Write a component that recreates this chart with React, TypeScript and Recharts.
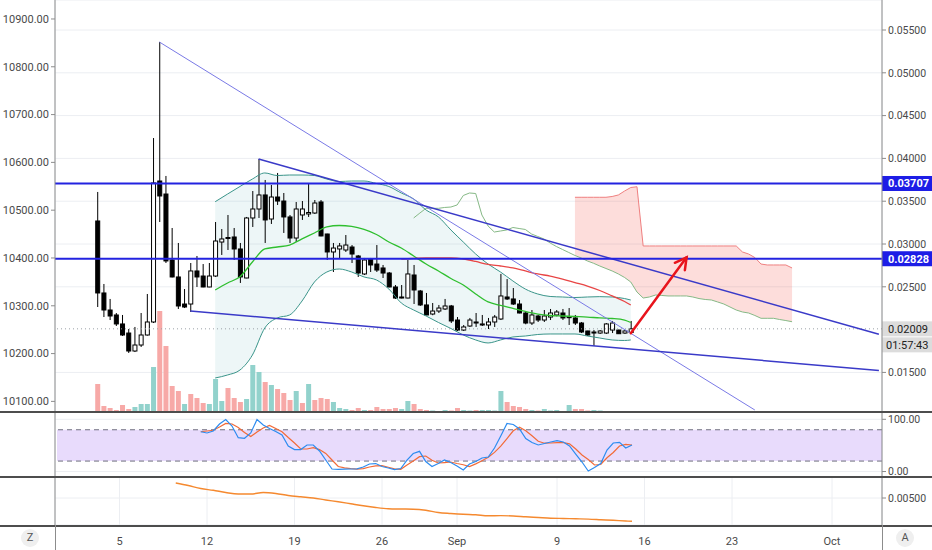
import React from "react";
import { ComposedChart, Bar, Line, Area, XAxis, YAxis, CartesianGrid, ReferenceLine, ReferenceArea } from "recharts";

// 12h slots counted from Jul 31 00:00, the last one is early October
const SLOT_COUNT = 133;
const dateTicks = [10, 24, 38, 52, 64, 80, 94, 108, 124];
const dateLabels = ["5", "12", "19", "26", "Sep", "9", "16", "23", "Oct"];

const leftTicks = [10100, 10200, 10300, 10400, 10500, 10600, 10700, 10800, 10900];
const rightTicks = [0.015, 0.025, 0.03, 0.035, 0.04, 0.045, 0.05, 0.055];

// candles, first one in slot 6
const CANDLE_START = 6;
const candleOpen = [
  0.03269, 0.02428, 0.02229, 0.02171, 0.02066, 0.0196, 0.0175, 0.0182, 0.01937, 0.02089,
  0.03736, 0.03584, 0.02813, 0.02615, 0.02299, 0.02299, 0.02685, 0.02626, 0.02498, 0.02626,
  0.03023, 0.03064, 0.03082, 0.02942, 0.02603, 0.03304, 0.03409, 0.03573, 0.03292, 0.03549,
  0.03502, 0.03316, 0.0307, 0.03339, 0.03351, 0.03362, 0.03491, 0.03117, 0.02907, 0.02942,
  0.0293, 0.02965, 0.0286, 0.0265, 0.02825, 0.02766, 0.0272, 0.02661, 0.02498, 0.02381,
  0.02369, 0.02638, 0.02451, 0.02288, 0.02182, 0.02217, 0.02241, 0.02276, 0.02112, 0.01995,
  0.02042, 0.02089, 0.02054, 0.02054, 0.02089, 0.02124, 0.02381, 0.02358, 0.02299, 0.02194,
  0.02077, 0.02159, 0.02112, 0.02147, 0.02171, 0.02194, 0.02151, 0.02136, 0.02077, 0.01984,
  0.01972, 0.0196, 0.0196, 0.01995, 0.01995, 0.0196, 0.01966,
];
const candleHigh = [
  0.03608, 0.02533, 0.02358, 0.02194, 0.02171, 0.02007, 0.02031, 0.02194, 0.02416, 0.04238,
  0.0536, 0.03795, 0.03187, 0.03012, 0.02474, 0.02778, 0.0286, 0.02766, 0.02778, 0.03257,
  0.03175, 0.03339, 0.03187, 0.03012, 0.03316, 0.03619, 0.03993, 0.03748, 0.03689, 0.0383,
  0.03596, 0.03339, 0.03491, 0.03502, 0.03701, 0.03514, 0.03514, 0.0312, 0.03012, 0.03012,
  0.03105, 0.02988, 0.02872, 0.02837, 0.02837, 0.02988, 0.02755, 0.02673, 0.02521, 0.02521,
  0.02813, 0.02755, 0.02463, 0.02428, 0.02311, 0.02288, 0.02358, 0.02288, 0.02147, 0.02054,
  0.02136, 0.02194, 0.02171, 0.02136, 0.02171, 0.0265, 0.02591, 0.02486, 0.02346, 0.02206,
  0.02229, 0.02171, 0.02229, 0.02241, 0.02229, 0.02241, 0.02252, 0.02171, 0.02089, 0.01986,
  0.01995, 0.01995, 0.02077, 0.02101, 0.01998, 0.01995, 0.02101,
];
const candleLow = [
  0.02264, 0.02147, 0.02112, 0.02042, 0.01925, 0.01727, 0.01738, 0.01797, 0.0193, 0.02077,
  0.03257, 0.02778, 0.0261, 0.02241, 0.02252, 0.02206, 0.02498, 0.02495, 0.02495, 0.02615,
  0.02872, 0.0293, 0.02813, 0.02545, 0.026, 0.03199, 0.03304, 0.03012, 0.03234, 0.03456,
  0.03129, 0.03012, 0.03023, 0.03281, 0.03316, 0.03351, 0.0309, 0.02813, 0.02673, 0.02825,
  0.02907, 0.02778, 0.02615, 0.02638, 0.02673, 0.02673, 0.02603, 0.02495, 0.02358, 0.02365,
  0.02365, 0.02299, 0.02276, 0.02168, 0.02168, 0.02194, 0.02229, 0.02077, 0.01984, 0.01984,
  0.02031, 0.02031, 0.02042, 0.02007, 0.02031, 0.02112, 0.02346, 0.02288, 0.0219, 0.02062,
  0.02054, 0.02089, 0.02089, 0.02112, 0.02155, 0.02112, 0.02054, 0.02054, 0.0196, 0.01925,
  0.01809, 0.01949, 0.01949, 0.0196, 0.01949, 0.01949, 0.0196,
];
const candleClose = [
  0.02428, 0.02229, 0.02159, 0.02066, 0.01937, 0.0175, 0.0182, 0.01937, 0.02089, 0.03713,
  0.03561, 0.02802, 0.02615, 0.02276, 0.02264, 0.02685, 0.02615, 0.02498, 0.02626, 0.03035,
  0.03059, 0.03076, 0.02942, 0.02615, 0.03304, 0.03409, 0.03573, 0.03281, 0.03549, 0.03502,
  0.03316, 0.0307, 0.03409, 0.03409, 0.03368, 0.03479, 0.03094, 0.02907, 0.02953, 0.02977,
  0.02988, 0.02883, 0.02661, 0.02813, 0.02755, 0.02696, 0.02661, 0.02498, 0.02369, 0.02369,
  0.0265, 0.02463, 0.02288, 0.02171, 0.02217, 0.02252, 0.02276, 0.02101, 0.01995, 0.02031,
  0.02112, 0.02077, 0.02066, 0.02089, 0.02147, 0.02393, 0.02358, 0.02299, 0.02194, 0.02077,
  0.02171, 0.02112, 0.02159, 0.02194, 0.02206, 0.02136, 0.02144, 0.02077, 0.01972, 0.01937,
  0.0196, 0.01984, 0.02066, 0.02077, 0.01952, 0.01984, 0.02009,
];
const volume = [
  28, 6, 4, 2, 7, 3, 5, 8, 8, 45,
  101, 66, 26, 21, 8, 18, 14, 9, 8, 33,
  11, 24, 14, 10, 13, 47, 40, 30, 27, 23,
  19, 12, 21, 9, 28, 12, 14, 13, 10, 4,
  3, 2, 4, 2, 2, 5, 3, 3, 4, 3,
  11, 8, 3, 2, 1.5, 1, 2, 1.5, 4, 2,
  1.5, 2, 2, 2, 1.5, 21, 10, 6, 5, 3,
  2, 1.5, 3, 1.5, 2, 1, 7, 3, 3, 1.5,
  2, 1.5, 1, 1, 1, 1, 1,
];
const volumeUp = [
  0, 0, 0, 0, 0, 0, 1, 1, 1, 1,
  0, 0, 0, 0, 1, 0, 0, 0, 1, 1,
  1, 0, 0, 0, 1, 1, 1, 0, 1, 0,
  0, 0, 1, 0, 1, 0, 0, 0, 1, 1,
  1, 0, 0, 1, 0, 0, 0, 0, 0, 1,
  1, 0, 0, 0, 1, 1, 1, 0, 0, 1,
  1, 0, 1, 1, 1, 1, 0, 0, 0, 0,
  1, 0, 1, 1, 1, 0, 1, 0, 0, 0,
  1, 1, 1, 1, 0, 1, 1,
];

// bollinger bands
const bbSlots = [25, 27, 29, 31, 33, 35, 37, 39, 41, 43, 45, 47, 49, 51, 53, 55, 57, 59, 61, 63, 65, 67, 69, 71, 73, 75, 77, 79, 81, 83, 85, 87, 89, 91, 92];
const bbUpper = [
  0.03494, 0.03584, 0.03672, 0.03759, 0.0383, 0.038, 0.03806, 0.03806, 0.038, 0.03759,
  0.0373, 0.03736, 0.03736, 0.03707, 0.03672, 0.03596, 0.03526, 0.03397, 0.03316, 0.03164,
  0.03023, 0.02883, 0.02766, 0.02673, 0.02568, 0.02474, 0.02416, 0.02387, 0.02381, 0.02375,
  0.02381, 0.02385, 0.02381, 0.02363, 0.02346,
];
const bbMiddle = [
  0.02463, 0.02545, 0.02618, 0.0279, 0.02942, 0.02965, 0.02988, 0.03059, 0.03129, 0.03199,
  0.03216, 0.03205, 0.0317, 0.03111, 0.03023, 0.02953, 0.0286, 0.02766, 0.02685, 0.02597,
  0.02521, 0.02416, 0.02323, 0.02282, 0.02247, 0.02212, 0.02182, 0.02165, 0.02159, 0.02153,
  0.02147, 0.02136, 0.0213, 0.02112, 0.02083,
];
const bbLower = [
  0.01435, 0.0147, 0.01528, 0.01703, 0.02019, 0.02136, 0.02171, 0.02334, 0.02556, 0.02673,
  0.02708, 0.02673, 0.02615, 0.0258, 0.02474, 0.02311, 0.02229, 0.02159, 0.02083, 0.02013,
  0.01937, 0.01879, 0.01844, 0.01879, 0.01914, 0.01925, 0.01943, 0.01949, 0.01949, 0.01949,
  0.01925, 0.01902, 0.01879, 0.01873, 0.01879,
];

// red average line
const redSlots = [55, 57, 59, 61, 63, 65, 67, 69, 71, 73, 75, 77, 79, 81, 83, 85, 87, 89, 91, 92];
const redLine = [
  0.02825, 0.02831, 0.02837, 0.02837, 0.02837, 0.02825, 0.02796, 0.02761, 0.02743, 0.0272,
  0.02685, 0.0265, 0.02626, 0.02591, 0.0255, 0.02509, 0.02457, 0.02393, 0.02328, 0.02288,
];

// cloud spans, one value per slot
const SPAN_A_START = 57;
const spanA = [
  0.03304, 0.03362, 0.03417, 0.03417, 0.03417, 0.03427, 0.03432, 0.03456, 0.03567, 0.03596,
  0.0359, 0.03339, 0.0321, 0.0314, 0.03152, 0.03164, 0.03193, 0.03181, 0.0317, 0.03117,
  0.03088, 0.03059, 0.03012, 0.02971, 0.02936, 0.02901, 0.02866, 0.02837, 0.02802, 0.02775,
  0.02743, 0.02714, 0.02685, 0.0265, 0.02609, 0.02556, 0.02439, 0.02369, 0.02381, 0.02404,
  0.02399, 0.02393, 0.02393, 0.02393, 0.02393, 0.02381, 0.02363, 0.02352, 0.02346, 0.02323,
  0.02299, 0.02264, 0.02229, 0.02206, 0.02194, 0.02165, 0.02132, 0.02132, 0.02132, 0.02118,
  0.02106, 0.02092,
];
const SPAN_B_START = 83;
const spanB = [
  0.03546, 0.03546, 0.03546, 0.03546, 0.03546, 0.03546, 0.03555, 0.03573, 0.03619, 0.0366,
  0.03669, 0.02977, 0.02977, 0.02977, 0.02977, 0.02977, 0.02977, 0.02977, 0.02977, 0.02977,
  0.02977, 0.02977, 0.02977, 0.02977, 0.02977, 0.02977, 0.02977, 0.02907, 0.02883, 0.02842,
  0.02766, 0.02755, 0.02755, 0.02755, 0.02755, 0.0272,
];

// stoch rsi
const RSI_START = 23;
const rsiK = [
  76.2, 73.8, 77.6, 91.0, 99.6, 87.2, 64.8, 63.6, 73.8, 99.6,
  89.1, 82.4, 76.6, 69.9, 48.9, 42.1, 42.1, 50.8, 50.8, 39.3,
  22.0, 4.8, 4.2, 4.4, 4.8, 5.2, 8.6, 14.4, 15.3, 9.6,
  6.7, 3.8, 5.7, 22.0, 34.5, 38.7, 19.2, 9.6, 15.3, 22.0,
  17.2, 10.5, 2.9, 14.4, 19.2, 25.9, 27.8, 45.0, 68.0, 92.0,
  90.0, 81.4, 63.2, 55.6, 50.8, 53.6, 56.5, 59.0, 56.5, 48.9,
  33.5, 18.2, 1.0, 7.7, 15.3, 41.2, 54.6, 55.9, 45.0, 50.8,
];
const rsiD = [
  76.2, 77.6, 79.1, 85.2, 92.0, 91.0, 84.3, 74.7, 67.0, 75.7,
  83.3, 88.1, 82.4, 76.2, 65.1, 54.6, 43.1, 43.1, 45.6, 42.0,
  34.7, 22.0, 9.6, 7.1, 5.7, 4.6, 5.7, 8.6, 10.9, 11.3,
  8.2, 5.2, 4.2, 12.5, 20.1, 28.5, 29.7, 21.5, 16.3, 17.2,
  18.2, 15.3, 13.0, 9.6, 14.6, 20.5, 27.4, 36.6, 48.5, 63.2,
  78.0, 84.7, 78.0, 68.4, 58.0, 54.2, 54.6, 55.2, 55.6, 52.9,
  43.1, 31.6, 23.0, 12.5, 13.4, 26.4, 36.4, 48.9, 51.9, 50.8,
];

// lower pane indicator
const lowSlots = [19, 21, 23, 25, 27, 29, 31, 33, 35, 37, 39, 41, 43, 45, 47, 49, 51, 53, 55, 57, 59, 61, 63, 65, 67, 69, 71, 73, 75, 77, 79, 81, 83, 85, 87, 89, 91, 92];
const lowLine = [
  0.0065, 0.00625, 0.00595, 0.00577, 0.00555, 0.0054, 0.0054, 0.00555, 0.00545, 0.00525,
  0.00512, 0.005, 0.0048, 0.00462, 0.00442, 0.00422, 0.00405, 0.00393, 0.0039, 0.00388,
  0.00377, 0.00355, 0.00345, 0.00337, 0.00332, 0.00322, 0.00324, 0.0032, 0.00312, 0.00305,
  0.00298, 0.00295, 0.00292, 0.00289, 0.00283, 0.00277, 0.0027, 0.00267,
];

const rows: any[] = Array.from({ length: SLOT_COUNT }, (_, slot) => ({ slot }));
candleOpen.forEach((o, j) => {
  const r = rows[CANDLE_START + j];
  r.open = o;
  r.high = candleHigh[j];
  r.low = candleLow[j];
  r.close = candleClose[j];
  r.range = [candleLow[j], candleHigh[j]];
  r.vol = volume[j];
  r.up = volumeUp[j] === 1;
});
bbSlots.forEach((s, j) => {
  rows[s].bbU = bbUpper[j];
  rows[s].bbM = bbMiddle[j];
  rows[s].bbL = bbLower[j];
  rows[s].bbRange = [bbLower[j], bbUpper[j]];
});
redSlots.forEach((s, j) => (rows[s].red = redLine[j]));
spanA.forEach((v, j) => (rows[SPAN_A_START + j].spanA = v));
spanB.forEach((v, j) => {
  const r = rows[SPAN_B_START + j];
  r.spanB = v;
  r.cloud = [r.spanA, v];
});
rsiK.forEach((v, j) => {
  rows[RSI_START + j].k = v;
  rows[RSI_START + j].d = rsiD[j];
});
lowSlots.forEach((s, j) => (rows[s].low2 = lowLine[j]));

const AXIS = "#8c8c8c";
const GRID = "#eceef2";
const TXT = "#4a4a4a";
const tickStyle = { fontSize: 11, fill: TXT };

const Candle = (props: any) => {
  const { x, y, width, height, payload } = props;
  if (!payload || payload.high == null || !isFinite(y)) return null;
  const k = height / (payload.high - payload.low);
  const yo = y + (payload.high - payload.open) * k;
  const yc = y + (payload.high - payload.close) * k;
  const bull = payload.close >= payload.open;
  const cx = x + width / 2;
  return (
    <g>
      <line x1={cx} x2={cx} y1={y} y2={y + height} stroke="#000" strokeWidth={1} />
      <rect
        x={x + 0.5}
        y={Math.min(yo, yc)}
        width={width - 1}
        height={Math.max(Math.abs(yc - yo), 1)}
        fill={bull ? "#fff" : "#000"}
        stroke="#000"
        strokeWidth={1}
      />
    </g>
  );
};

const VolBar = (props: any) => {
  const { x, y, width, height, payload } = props;
  if (!payload || payload.vol == null || !isFinite(y)) return null;
  return <rect x={x} y={y} width={width} height={height} fill={payload.up ? "#92d2cc" : "#f7a9a7"} />;
};

const ArrowShape = (p: any) => {
  const { x1, y1, x2, y2 } = p;
  const a = Math.atan2(y2 - y1, x2 - x1);
  const len = 13;
  const h1x = x2 - len * Math.cos(a - 0.5);
  const h1y = y2 - len * Math.sin(a - 0.5);
  const h2x = x2 - len * Math.cos(a + 0.5);
  const h2y = y2 - len * Math.sin(a + 0.5);
  return (
    <g stroke="#e8141c" strokeWidth={2.5} fill="none" strokeLinecap="round">
      <line x1={x1} y1={y1} x2={x2} y2={y2} />
      <polyline points={`${h1x},${h1y} ${x2},${y2} ${h2x},${h2y}`} />
    </g>
  );
};

const PriceTag = (props: any) => {
  const { viewBox, text, bg, color, bold, sub } = props;
  if (!viewBox) return null;
  const right = viewBox.x + viewBox.width;
  const cy = viewBox.y;
  return (
    <g>
      <rect x={right} y={cy - 7.5} width={50} height={15} fill={bg} />
      <text x={right + 6} y={cy + 4} fill={color} fontSize={11} fontWeight={bold ? 700 : 400}>
        {text}
      </text>
      {sub && (
        <g>
          <rect x={right} y={cy + 8.5} width={50} height={15} fill={bg} />
          <text x={right + 4} y={cy + 20} fill={color} fontSize={11}>
            {sub}
          </text>
        </g>
      )}
    </g>
  );
};

function MainPane() {
  return (
    <ComposedChart width={932} height={412} data={rows} margin={{ top: 0, right: 0, bottom: 0, left: 0 }}>
      <CartesianGrid xAxisId="main" yAxisId="right" stroke={GRID} />
      <XAxis xAxisId="main" dataKey="slot" padding={{ left: 2, right: 0 }} ticks={dateTicks} interval={0} height={0} tick={false} axisLine={false} tickLine={false} />
      <XAxis xAxisId="vol" dataKey="slot" padding={{ left: 2, right: 0 }} hide />
      <YAxis
        yAxisId="left"
        orientation="left"
        width={55}
        domain={[10077.8, 10939.7]}
        allowDataOverflow
        ticks={leftTicks}
        interval={0}
        tickFormatter={(v: number) => v.toFixed(2)}
        tick={tickStyle}
        tickSize={4}
        tickMargin={2}
        stroke={AXIS}
      />
      <YAxis
        yAxisId="right"
        orientation="right"
        width={50}
        domain={[0.010375, 0.058505]}
        allowDataOverflow
        ticks={rightTicks}
        interval={0}
        tickFormatter={(v: number) => v.toFixed(5)}
        tick={{ ...tickStyle, fontSize: 10.5 }}
        tickSize={4}
        tickMargin={2}
        stroke={AXIS}
      />
      <YAxis yAxisId="vol" hide domain={[0, 412]} allowDataOverflow />

      <Bar xAxisId="vol" yAxisId="vol" dataKey="vol" barSize={5} shape={(p: any) => <VolBar {...p} />} isAnimationActive={false} />

      <Area xAxisId="main" yAxisId="right" dataKey="bbRange" type="monotone" stroke="none" fill="#4fa3b5" fillOpacity={0.1} connectNulls isAnimationActive={false} />
      <Area xAxisId="main" yAxisId="right" dataKey="cloud" type="linear" stroke="none" fill="#f44336" fillOpacity={0.18} isAnimationActive={false} />

      <Line xAxisId="main" yAxisId="right" dataKey="bbU" type="monotone" stroke="#3a958a" strokeWidth={1} dot={false} activeDot={false} connectNulls isAnimationActive={false} />
      <Line xAxisId="main" yAxisId="right" dataKey="bbL" type="monotone" stroke="#3a958a" strokeWidth={1} dot={false} activeDot={false} connectNulls isAnimationActive={false} />
      <Line xAxisId="main" yAxisId="right" dataKey="bbM" type="monotone" stroke="#2fbf2f" strokeWidth={1.3} dot={false} activeDot={false} connectNulls isAnimationActive={false} />
      <Line xAxisId="main" yAxisId="right" dataKey="red" type="monotone" stroke="#e84545" strokeWidth={1.3} dot={false} activeDot={false} connectNulls isAnimationActive={false} />
      <Line xAxisId="main" yAxisId="right" dataKey="spanA" type="linear" stroke="#86b986" strokeWidth={1} dot={false} activeDot={false} isAnimationActive={false} />
      <Line xAxisId="main" yAxisId="right" dataKey="spanB" type="linear" stroke="#ef7f7f" strokeWidth={1} dot={false} activeDot={false} isAnimationActive={false} />

      <Bar xAxisId="main" yAxisId="right" dataKey="range" barSize={5} shape={(p: any) => <Candle {...p} />} isAnimationActive={false} />

      <ReferenceLine xAxisId="main" yAxisId="right" y={0.02009} stroke="#9aa0a6" strokeDasharray="1 3" label={<PriceTag text="0.02009" sub="01:57:43" bg="#dcdcdc" color="#222" />} />
      <ReferenceLine xAxisId="main" yAxisId="right" segment={[{ x: 16, y: 0.0536 }, { x: 112, y: 0.01061 }]} stroke="#7a7ae6" strokeWidth={1} />
      <ReferenceLine xAxisId="main" yAxisId="right" segment={[{ x: 32, y: 0.03993 }, { x: 132, y: 0.01945 }]} stroke="#3a3ac8" strokeWidth={1.5} />
      <ReferenceLine xAxisId="main" yAxisId="right" segment={[{ x: 21, y: 0.02217 }, { x: 132, y: 0.01522 }]} stroke="#3a3ac8" strokeWidth={1.5} />
      <ReferenceLine xAxisId="main" yAxisId="right" y={0.03707} stroke="#2323e0" strokeWidth={2} label={<PriceTag text="0.03707" bg="#1d1de6" color="#fff" bold />} />
      <ReferenceLine xAxisId="main" yAxisId="right" y={0.02828} stroke="#2323e0" strokeWidth={2} label={<PriceTag text="0.02828" bg="#1d1de6" color="#fff" bold />} />
      <ReferenceLine xAxisId="main" yAxisId="right" segment={[{ x: 92, y: 0.01957 }, { x: 101, y: 0.02845 }]} shape={(p: any) => <ArrowShape {...p} />} />
    </ComposedChart>
  );
}

function RsiPane() {
  return (
    <ComposedChart width={932} height={65} data={rows} margin={{ top: 0, right: 0, bottom: 0, left: 0 }}>
      <CartesianGrid yAxisId="r" stroke={GRID} />
      <XAxis dataKey="slot" padding={{ left: 2, right: 0 }} ticks={dateTicks} interval={0} height={0} tick={false} axisLine={false} tickLine={false} />
      <YAxis yAxisId="l" orientation="left" width={55} domain={[-10.5, 114]} tick={false} tickLine={false} stroke={AXIS} />
      <YAxis
        yAxisId="r"
        orientation="right"
        width={50}
        domain={[-10.5, 114]}
        allowDataOverflow
        ticks={[0, 100]}
        interval={0}
        tickFormatter={(v: number) => v.toFixed(2)}
        tick={{ ...tickStyle, fontSize: 10.5 }}
        tickSize={4}
        tickMargin={2}
        stroke={AXIS}
      />
      <ReferenceArea yAxisId="r" y1={20} y2={80} fill="#8a4af0" fillOpacity={0.2} stroke="none" />
      <ReferenceLine yAxisId="r" y={80} stroke="#6e6e7e" strokeDasharray="5 4" />
      <ReferenceLine yAxisId="r" y={20} stroke="#6e6e7e" strokeDasharray="5 4" />
      <Line yAxisId="r" dataKey="d" type="linear" stroke="#f26b38" strokeWidth={1.2} dot={false} activeDot={false} isAnimationActive={false} />
      <Line yAxisId="r" dataKey="k" type="linear" stroke="#2d8cf0" strokeWidth={1.2} dot={false} activeDot={false} isAnimationActive={false} />
    </ComposedChart>
  );
}

function LowerPane() {
  return (
    <ComposedChart width={932} height={73} data={rows} margin={{ top: 0, right: 0, bottom: 0, left: 0 }}>
      <CartesianGrid yAxisId="r" stroke={GRID} />
      <XAxis
        dataKey="slot"
        padding={{ left: 2, right: 0 }}
        ticks={dateTicks}
        interval={0}
        height={25}
        tickFormatter={(v: number) => dateLabels[dateTicks.indexOf(v)]}
        tick={tickStyle}
        tickLine={false}
        axisLine={false}
        tickMargin={6}
      />
      <YAxis yAxisId="l" orientation="left" width={55} domain={[0.0023, 0.0071]} tick={false} tickLine={false} stroke={AXIS} />
      <YAxis
        yAxisId="r"
        orientation="right"
        width={50}
        domain={[0.0023, 0.0071]}
        allowDataOverflow
        ticks={[0.005]}
        interval={0}
        tickFormatter={(v: number) => v.toFixed(5)}
        tick={{ ...tickStyle, fontSize: 10.5 }}
        tickSize={4}
        tickMargin={2}
        stroke={AXIS}
      />
      <Line yAxisId="r" dataKey="low2" type="monotone" stroke="#f5892f" strokeWidth={1.4} dot={false} activeDot={false} connectNulls isAnimationActive={false} />
    </ComposedChart>
  );
}

const rule = (style: React.CSSProperties) => <div style={{ position: "absolute", ...style }} />;

export default function App() {
  return (
    <div
      style={{
        position: "absolute",
        left: 0,
        top: 0,
        width: 932,
        height: 550,
        background: "#fff",
        overflow: "hidden",
        fontFamily: "Roboto, 'Noto Sans', sans-serif",
      }}
    >
      <div style={{ position: "absolute", left: 0, top: 0 }}>
        <MainPane />
      </div>
      <div style={{ position: "absolute", left: 0, top: 412 }}>
        <RsiPane />
      </div>
      <div style={{ position: "absolute", left: 0, top: 477 }}>
        <LowerPane />
      </div>
      {rule({ left: 0, top: 411, width: 932, height: 2, background: "#4d4d4d" })}
      {rule({ left: 0, top: 476, width: 932, height: 2, background: "#4d4d4d" })}
      {rule({ left: 0, top: 525, width: 932, height: 1.5, background: "#4d4d4d" })}
      {rule({ left: 54.5, top: 525, width: 1, height: 25, background: AXIS })}
      {rule({ left: 881.5, top: 525, width: 1, height: 25, background: AXIS })}
      <div
        style={{
          position: "absolute",
          left: 21,
          top: 529,
          width: 18,
          height: 18,
          borderRadius: 9,
          background: "#efefef",
          color: "#555",
          fontSize: 11,
          lineHeight: "18px",
          textAlign: "center",
        }}
      >
        Z
      </div>
      <div
        style={{
          position: "absolute",
          left: 896,
          top: 529,
          width: 18,
          height: 18,
          borderRadius: 9,
          background: "#efefef",
          color: "#555",
          fontSize: 11,
          lineHeight: "18px",
          textAlign: "center",
        }}
      >
        A
      </div>
    </div>
  );
}
